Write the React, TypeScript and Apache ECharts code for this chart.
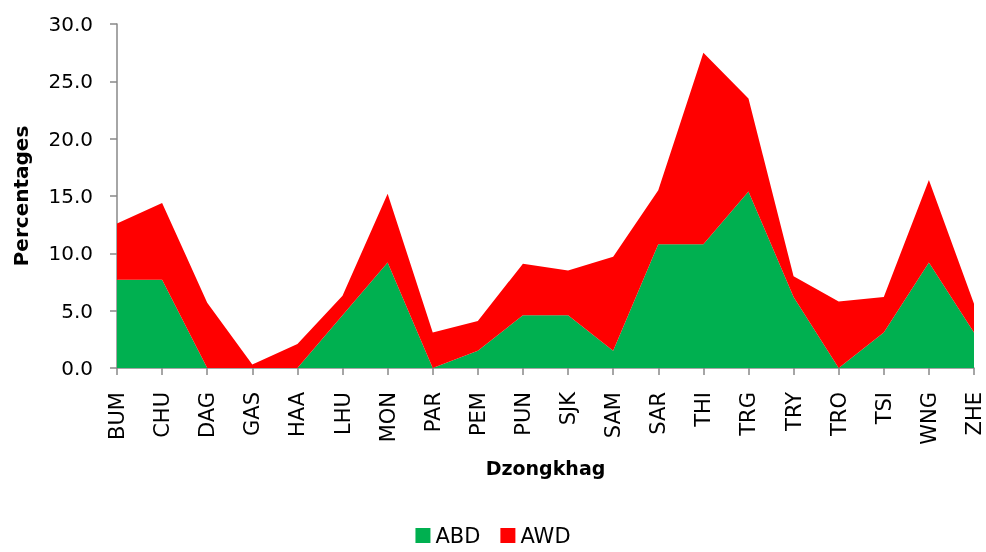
import React, { useEffect, useRef } from "react";
import * as echarts from "echarts";

const categories = ["BUM", "CHU", "DAG", "GAS", "HAA", "LHU", "MON", "PAR", "PEM", "PUN", "SJK", "SAM", "SAR", "THI", "TRG", "TRY", "TRO", "TSI", "WNG", "ZHE"];
const abd = [7.7, 7.7, 0, 0, 0, 4.6, 9.2, 0, 1.5, 4.6, 4.6, 1.5, 10.8, 10.8, 15.4, 6.2, 0, 3.1, 9.2, 3.1];
const awd = [4.9, 6.7, 5.7, 0.3, 2.1, 1.7, 6.0, 3.1, 2.6, 4.5, 3.9, 8.2, 4.7, 16.7, 8.1, 1.8, 5.8, 3.1, 7.2, 2.5];

const FONT = "'DejaVu Sans', Verdana, sans-serif";
const AXIS_COLOR = "#888888";

export default function App() {
  const ref = useRef<HTMLDivElement>(null);
  useEffect(() => {
    if (!ref.current) return;
    const chart = echarts.init(ref.current, undefined, { renderer: "svg" });
    chart.setOption({
      animation: false,
      textStyle: { fontFamily: FONT },
      grid: { left: 117, right: 12, top: 24, bottom: 184, containLabel: false },
      legend: {
        top: 520,
        left: "center",
        itemWidth: 15,
        itemHeight: 15,
        itemGap: 20,
        icon: "rect",
        textStyle: { fontSize: 21, color: "#000", fontFamily: FONT },
        data: ["ABD", "AWD"],
      },
      xAxis: {
        type: "category",
        data: categories,
        boundaryGap: false,
        name: "Dzongkhag",
        nameLocation: "middle",
        nameGap: 90,
        nameTextStyle: { fontSize: 19, fontWeight: "bold", color: "#000", fontFamily: FONT },
        axisLine: { lineStyle: { color: AXIS_COLOR, width: 1.5 } },
        axisTick: { show: true, alignWithLabel: true, length: 7, lineStyle: { color: AXIS_COLOR, width: 1.5 } },
        axisLabel: { rotate: 90, fontSize: 21, color: "#000", margin: 24, interval: 0, fontFamily: FONT },
      },
      yAxis: {
        type: "value",
        min: 0,
        max: 30,
        interval: 5,
        name: "Percentages",
        nameLocation: "middle",
        nameGap: 86,
        nameRotate: 90,
        nameTextStyle: { fontSize: 20, fontWeight: "bold", color: "#000", fontFamily: FONT },
        axisLine: { show: true, lineStyle: { color: AXIS_COLOR, width: 1.5 } },
        axisTick: { show: true, length: 7, lineStyle: { color: AXIS_COLOR, width: 1.5 } },
        splitLine: { show: false },
        axisLabel: {
          fontSize: 20,
          color: "#000",
          margin: 24,
          fontFamily: FONT,
          formatter: (v: number) => v.toFixed(1),
        },
      },
      series: [
        {
          name: "ABD",
          type: "line",
          stack: "total",
          data: abd,
          symbol: "none",
          lineStyle: { width: 0 },
          itemStyle: { color: "#00B050" },
          areaStyle: { color: "#00B050", opacity: 1 },
        },
        {
          name: "AWD",
          type: "line",
          stack: "total",
          data: awd,
          symbol: "none",
          lineStyle: { width: 0 },
          itemStyle: { color: "#FF0000" },
          areaStyle: { color: "#FF0000", opacity: 1 },
        },
      ],
    });
    return () => chart.dispose();
  }, []);
  return <div ref={ref} style={{ position: "fixed", left: 0, top: 0, width: 986, height: 552 }} />;
}
